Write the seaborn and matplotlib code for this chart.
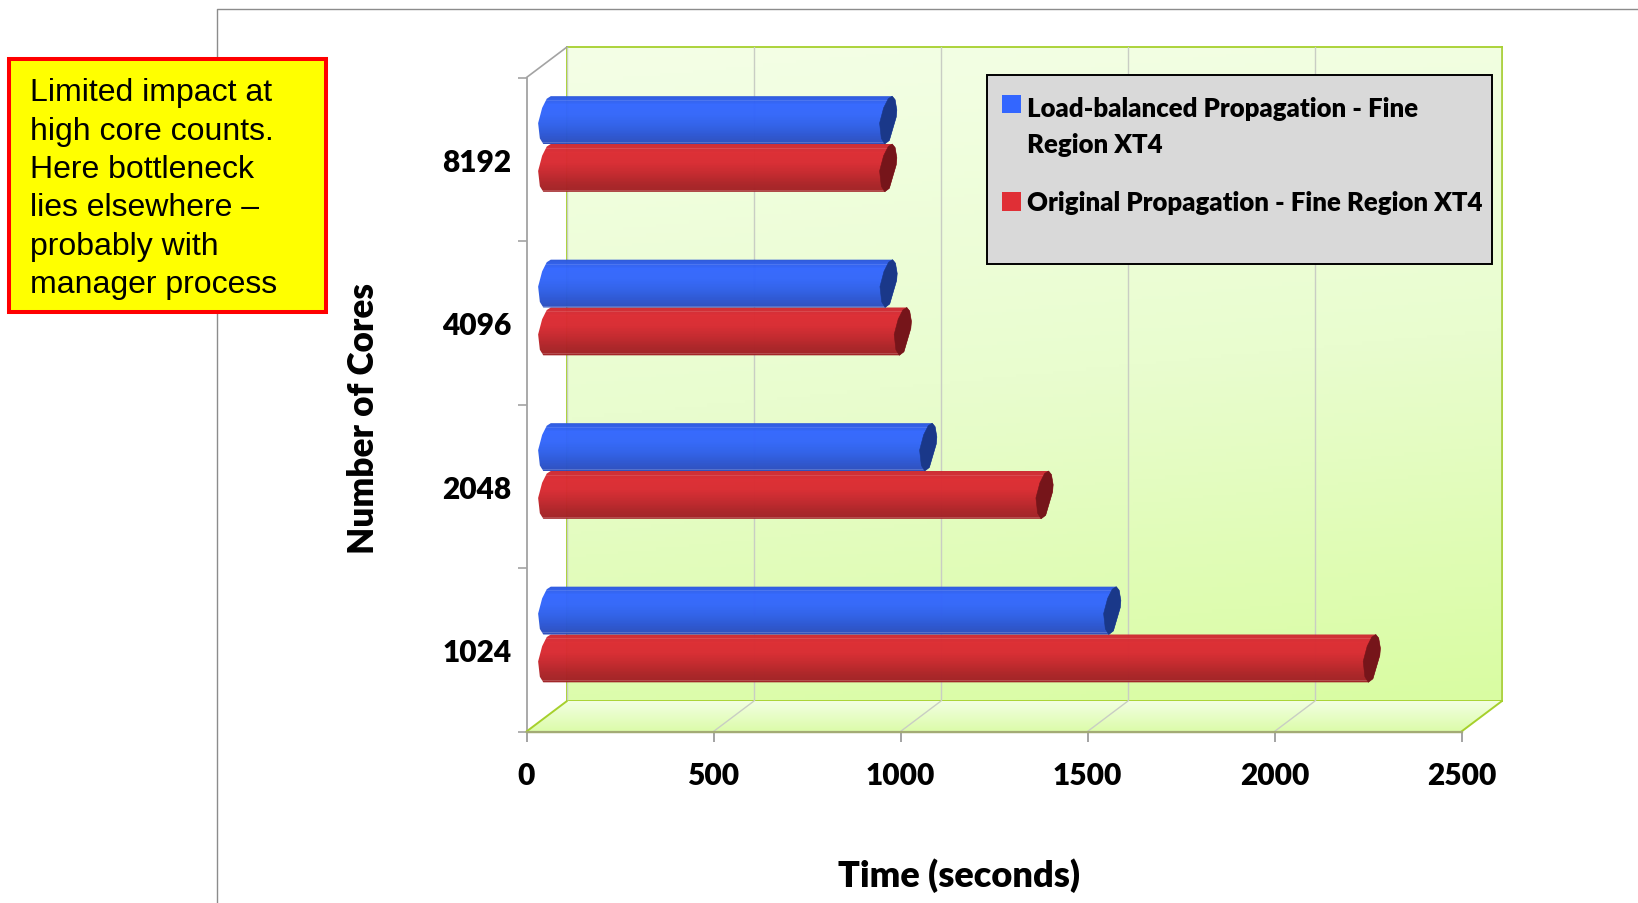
import numpy as np
import pandas as pd
import matplotlib
matplotlib.use("Agg")
import matplotlib.pyplot as plt
import seaborn as sns
from matplotlib.colors import LinearSegmentedColormap
from matplotlib.patches import Polygon, Rectangle

# Run times per core count
cores = ["8192", "4096", "2048", "1024"]
load_balanced = [913, 914, 1020, 1512]
original = [913, 952, 1331, 2206]
series_names = ["Load-balanced Propagation - Fine Region XT4",
                "Original Propagation - Fine Region XT4"]
x_ticks = [0, 500, 1000, 1500, 2000, 2500]
note_lines = ["Limited impact at", "high core counts.", "Here bottleneck",
              "lies elsewhere \u2013", "probably with", "manager process"]

W, H = 1638, 904
FRONT = (526.5, 78.5, 1461.5, 732.5)   # left, top, right, bottom of the front plane
DEPTH = (40.5, -30.5)                  # px offset from the front plane to the back wall
GREEN = "#a6d02c"
GRID = "#c9cdc4"
AXIS_GREY = "#a3a3a3"
LABEL_FONT = "Lato"

sns.set_theme(style="white")
plt.rcParams["font.family"] = [LABEL_FONT, "DejaVu Sans"]
fig = plt.figure(figsize=(W / 100, H / 100), dpi=100, facecolor="white")


def axes_at(left, top, right, bottom, **kw):
    """Axes placed from pixel bounds measured from the top-left corner."""
    return fig.add_axes([left / W, 1 - bottom / H, (right - left) / W, (bottom - top) / H], **kw)


def blend(stops, n=256):
    return LinearSegmentedColormap.from_list("g", stops)(np.linspace(0, 1, n))[:, :3]


# Back wall: soft green gradient with vertical grid lines
l, t, r, b = FRONT
wall = axes_at(l + DEPTH[0], t + DEPTH[1], r + DEPTH[0], b + DEPTH[1], zorder=0)
yy, xx = np.mgrid[0:1:200j, 0:1:200j]
shade = 0.88 * yy + 0.12 * xx
wall_cmap = LinearSegmentedColormap.from_list("wall", ["#f4ffe6", "#e9fdcf", "#d9fca2"])
wall.imshow(shade, cmap=wall_cmap, extent=(0, 2500, 0, 1), aspect="auto", origin="upper", zorder=0)
wall.set_xlim(0, 2500)
wall.set_ylim(0, 1)
wall.set_xticks(x_ticks)
wall.set_yticks([])
wall.tick_params(bottom=False, labelbottom=False)
wall.grid(axis="x", color=GRID, lw=1.0, zorder=1)
wall.set_axisbelow(False)
for s in wall.spines.values():
    s.set_color(GREEN)
    s.set_linewidth(1.3)

# Front plane: the visible axes, ticks and labels
front = axes_at(l, t, r, b, zorder=1)
front.patch.set_alpha(0)
front.set_xlim(0, 2500)
front.set_ylim(len(cores) - 0.5, -0.5)
front.set_xticks(x_ticks)
front.set_yticks(np.arange(len(cores) + 1) - 0.5)
front.set_yticks(np.arange(len(cores)), labels=cores, minor=True)
front.set_yticklabels([])
front.tick_params(axis="x", length=7.5, width=1.4, color=AXIS_GREY, bottom=True, pad=14,
                  labelsize=21.5, labelcolor="black")
front.tick_params(axis="y", which="major", length=6.5, width=1.2, color=AXIS_GREY, left=True)
front.tick_params(axis="y", which="minor", length=0, pad=11, labelsize=21.5, labelcolor="black")
for lab in front.get_xticklabels() + front.get_yticklabels(minor=True):
    lab.set_fontweight("heavy")
for side in ("top", "right"):
    front.spines[side].set_visible(False)
front.spines["left"].set_color(AXIS_GREY)
front.spines["left"].set_linewidth(1.3)
front.spines["bottom"].set_color("#a3ab75")
front.spines["bottom"].set_linewidth(1.6)
front.set_xlabel("Time (seconds)", fontsize=26, fontweight="heavy", color="black")
front.set_ylabel("Number of Cores", fontsize=25.3, fontweight="heavy", color="black")
front.xaxis.set_label_coords((959 - l) / (r - l), (b - 875.5) / (b - t))
front.yaxis.set_label_coords((363 - l) / (r - l), (b - 418) / (b - t))
front.xaxis.label.set_verticalalignment("center")
front.yaxis.label.set_verticalalignment("center")

# Bars sit halfway between the front plane and the back wall
df = pd.DataFrame({
    "Cores": cores * 2,
    "Time": load_balanced + original,
    "Series": [series_names[0]] * len(cores) + [series_names[1]] * len(cores),
})
bars = axes_at(l + DEPTH[0] / 2, t + DEPTH[1] / 2, r + DEPTH[0] / 2, b + DEPTH[1] / 2, zorder=2)
bars.patch.set_alpha(0)
BLUE, RED = "#3366ff", "#e02f36"
sns.barplot(data=df, y="Cores", x="Time", hue="Series", order=cores, hue_order=series_names,
            palette=[BLUE, RED], orient="h", width=0.585, gap=0, saturation=1, ax=bars)
bars.set_xlim(0, 2500)
bars.set_ylim(len(cores) - 0.5, -0.5)
handles, labels = bars.get_legend_handles_labels()
bars.get_legend().remove()
bars.axis("off")

# Pixel-space overlay for floor, frame, cylinder shading, legend and the note
px = axes_at(0, 0, W, H, zorder=3)
px.patch.set_alpha(0)
px.set_xlim(0, W)
px.set_ylim(H, 0)
px.axis("off")

# Page frame behind the chart
px.plot([217, 217, W], [H, 9.5, 9.5], color="#8c8c8c", lw=1.0, zorder=1, clip_on=False)

# Floor between front plane and back wall
floor_pts = [(l, b), (r, b), (r + DEPTH[0], b + DEPTH[1]), (l + DEPTH[0], b + DEPTH[1])]
floor_clip = Polygon(floor_pts, closed=True, transform=px.transData, fc="none", ec="none")
px.add_patch(floor_clip)
floor_img = px.imshow(blend(["#f3ffe4", "#dcfcaa"])[:, None, :], aspect="auto",
                      extent=(l, r + DEPTH[0], b, b + DEPTH[1]), zorder=2)
floor_img.set_clip_path(floor_clip)
for v in x_ticks[1:-1]:
    xf = l + v / 2500 * (r - l)
    px.plot([xf, xf + DEPTH[0]], [b, b + DEPTH[1]], color=GRID, lw=1.0, zorder=3)
px.plot([l, l + DEPTH[0]], [b, b + DEPTH[1]], color=GREEN, lw=1.4, zorder=3)
px.plot([r, r + DEPTH[0]], [b, b + DEPTH[1]], color=GREEN, lw=1.4, zorder=3)
px.plot([l, r], [b, b], color="#a3ab75", lw=1.6, zorder=3)
px.plot([l, l + DEPTH[0]], [t, t + DEPTH[1]], color=AXIS_GREY, lw=1.2, zorder=3)

# Slanted octagon used for both ends of a cylinder, as offsets scaled to half height
CAP = np.array([(3.5, -23.5), (6, -20), (7.5, -10), (7, -3), (1, 20), (-3, 23.5),
                (-6, 18), (-7.5, 3), (-4, -12), (0, -21)])

shading = {
    BLUE: (["#2a55d4", "#3366ff", "#3366fa", "#2f60ea", "#2b55d2", "#2b4cb8"], "#1a3889"),
    RED: (["#c72b33", "#dd2c33", "#d92b32", "#c5272d", "#ad2327", "#9e2125"], "#76151a"),
}


def to_px(x, y):
    dx, dy = bars.transData.transform((x, y))
    return dx, H - dy


def draw_cylinder(rect, color, z):
    x0, w = rect.get_x(), rect.get_width()
    y0, h = rect.get_y(), rect.get_height()
    left, top = to_px(x0, y0)
    right, bottom = to_px(x0 + w, y0 + h)
    cy = (top + bottom) / 2
    scale = np.array([1.15, (bottom - top) / 47.0])
    lcap = CAP * scale + (left, cy)
    rcap = CAP * scale + (right, cy)
    outline = np.vstack([lcap[:1], rcap[:6], lcap[5:]])
    body = Polygon(outline, closed=True, fc="none", ec="none", transform=px.transData, zorder=z)
    px.add_patch(body)
    stops, cap_color = shading[color]
    grad = blend(stops, 120)
    # Faint highlights along the tube
    for frac, amount in ((0.13, 0.12), (0.25, 0.08), (0.36, 0.14), (0.93, 0.18)):
        row = int(frac * 120)
        grad[row] = grad[row] + (1 - grad[row]) * amount
    img = px.imshow(grad[:, None, :], aspect="auto", alpha=0.98, zorder=z,
                    extent=(left - 10, right + 10, bottom + 2, top - 2), interpolation="nearest")
    img.set_clip_path(body)
    px.add_patch(Polygon(rcap, closed=True, fc=cap_color, ec=cap_color, lw=0.4, zorder=z + 0.1))
    rect.set_visible(False)


# Red tubes go first so the blue ones overlap them
for container, base, z in zip(bars.containers[::-1], (RED, BLUE), (5, 6)):
    for rect in container:
        draw_cylinder(rect, base, z)

px.set_xlim(0, W)
px.set_ylim(H, 0)

# Legend box
px.add_patch(Rectangle((987, 75.5), 505, 189, fc="#d9d9d9", ec="black", lw=1.4, zorder=8))
wrapped = ["Load-balanced Propagation - Fine\nRegion XT4", labels[1]]
leg = px.legend(handles, wrapped, loc="upper left", bbox_to_anchor=(1002, 97.5), bbox_transform=px.transData,
                frameon=False, prop={"family": LABEL_FONT, "weight": "heavy", "size": 18.5},
                handlelength=0.72, handleheight=0.72, handletextpad=0.25, labelspacing=1.35,
                borderpad=0, borderaxespad=0, labelcolor="black")
leg.set_zorder(9)
for txt in leg.get_texts():
    txt.set_linespacing(1.56)
for hnd in leg.legend_handles:
    hnd.set_linewidth(0)
    hnd.set_edgecolor("none")
# The swatch of the two-line entry lines up with its first line
first = leg.legend_handles[0]
first.set_y(first.get_y() + 16.5)

# Callout note
px.add_patch(Rectangle((9.3, 59.5), 316.7, 253, fc="#ffff00", ec="#ff0000", lw=2.9, zorder=10))
px.text(30, 78.5, "\n".join(note_lines), family="Liberation Sans", fontsize=23, color="black",
        va="top", ha="left", linespacing=1.36, zorder=11)

fig.savefig("out.png", dpi=100, facecolor="white")
